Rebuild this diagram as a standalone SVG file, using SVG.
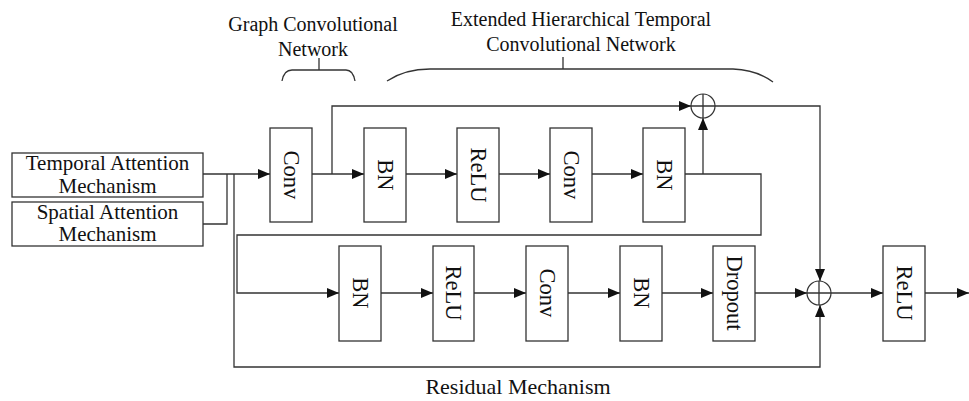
<svg xmlns="http://www.w3.org/2000/svg" width="969" height="401" viewBox="0 0 969 401">
<defs>
<marker id="ah" markerUnits="userSpaceOnUse" markerWidth="13" markerHeight="11" refX="12" refY="5" orient="auto">
<path d="M0,0 L12,5 L0,10 z" fill="#111"/>
</marker>
<style>
.box{fill:#fff;stroke:#333;stroke-width:1.3}
.ln{fill:none;stroke:#333;stroke-width:1.3}
.ar{fill:none;stroke:#333;stroke-width:1.3;marker-end:url(#ah)}
.t{font-family:"Liberation Serif","Times New Roman",serif;font-size:20px;fill:#111;text-anchor:middle}
.b{font-size:21px}
.r{font-size:22px}
.v{font-family:"Liberation Serif","Times New Roman",serif;font-size:22.5px;fill:#111;text-anchor:middle;dominant-baseline:central}
.sum{fill:#fff;stroke:#333;stroke-width:1.2}
</style>
</defs>
<rect width="969" height="401" fill="#fff"/>

<g id="labels">
<text class="t" x="313" y="31">Graph Convolutional</text>
<text class="t" x="313" y="56">Network</text>
<text class="t" x="581" y="26">Extended Hierarchical Temporal</text>
<text class="t" x="581" y="51">Convolutional Network</text>
<text class="t r" x="518" y="394">Residual Mechanism</text>
<path class="ln" d="M282,81 Q284,70 292,70 H346 Q353,70 355,81 M319,70 V58"/>
<path class="ln" d="M387,81 Q405,69 430,69 H733 Q757,70 773,82 M563,69 V57"/>
</g>

<g id="connectors">
<path class="ar" d="M203,174 H270"/>
<path class="ln" d="M203,224 H227 V174"/>
<path class="ar" d="M234,174 V367 H820 V305"/>
<path class="ar" d="M312,174 H364"/>
<path class="ar" d="M332,174 V106 H691"/>
<path class="ar" d="M406,174 H457"/>
<path class="ar" d="M499,174 H550"/>
<path class="ar" d="M592,174 H643"/>
<path class="ar" d="M685,174 H761 V235 H237 V293 H339"/>
<path class="ar" d="M703,174 V118"/>
<path class="ar" d="M715,106 H820 V281"/>
<path class="ar" d="M381,293 H433"/>
<path class="ar" d="M474,293 H526"/>
<path class="ar" d="M568,293 H620"/>
<path class="ar" d="M662,293 H713"/>
<path class="ar" d="M755,293 H807"/>
<path class="ar" d="M831,293 H883"/>
<path class="ar" d="M925,293 H969"/>
</g>

<g id="temporal-attention">
<rect class="box" x="12" y="153" width="191" height="44"/>
<text class="t b" x="107.5" y="170">Temporal Attention</text>
<text class="t b" x="107.5" y="193">Mechanism</text>
</g>
<g id="spatial-attention">
<rect class="box" x="12" y="202" width="191" height="44"/>
<text class="t b" x="107.5" y="219">Spatial Attention</text>
<text class="t b" x="107.5" y="241">Mechanism</text>
</g>

<g id="gcn-conv">
<rect class="box" x="270" y="128" width="42" height="94"/>
<text class="v" x="291" y="175" transform="rotate(90 291 175)">Conv</text>
</g>
<g id="bn1">
<rect class="box" x="364" y="128" width="42" height="94"/>
<text class="v" x="385" y="175" transform="rotate(90 385 175)">BN</text>
</g>
<g id="relu1">
<rect class="box" x="457" y="128" width="42" height="94"/>
<text class="v" x="478" y="175" transform="rotate(90 478 175)">ReLU</text>
</g>
<g id="conv2">
<rect class="box" x="550" y="128" width="42" height="94"/>
<text class="v" x="571" y="175" transform="rotate(90 571 175)">Conv</text>
</g>
<g id="bn2">
<rect class="box" x="643" y="128" width="42" height="94"/>
<text class="v" x="664" y="175" transform="rotate(90 664 175)">BN</text>
</g>
<g id="sum1">
<circle class="sum" cx="703" cy="106" r="12"/>
<path class="ln" d="M691,106 H715 M703,94 V118"/>
</g>

<g id="bn3">
<rect class="box" x="339" y="246" width="42" height="95"/>
<text class="v" x="360" y="293" transform="rotate(90 360 293)">BN</text>
</g>
<g id="relu2">
<rect class="box" x="433" y="246" width="41" height="95"/>
<text class="v" x="453.5" y="293" transform="rotate(90 453.5 293)">ReLU</text>
</g>
<g id="conv3">
<rect class="box" x="526" y="246" width="42" height="95"/>
<text class="v" x="547" y="293" transform="rotate(90 547 293)">Conv</text>
</g>
<g id="bn4">
<rect class="box" x="620" y="246" width="42" height="95"/>
<text class="v" x="641" y="293" transform="rotate(90 641 293)">BN</text>
</g>
<g id="dropout">
<rect class="box" x="713" y="246" width="42" height="95"/>
<text class="v" x="734" y="293" transform="rotate(90 734 293)">Dropout</text>
</g>
<g id="sum2">
<circle class="sum" cx="819" cy="293" r="12"/>
<path class="ln" d="M807,293 H831 M819,281 V305"/>
</g>
<g id="relu-out">
<rect class="box" x="883" y="246" width="42" height="95"/>
<text class="v" x="904" y="293" transform="rotate(90 904 293)">ReLU</text>
</g>
</svg>
